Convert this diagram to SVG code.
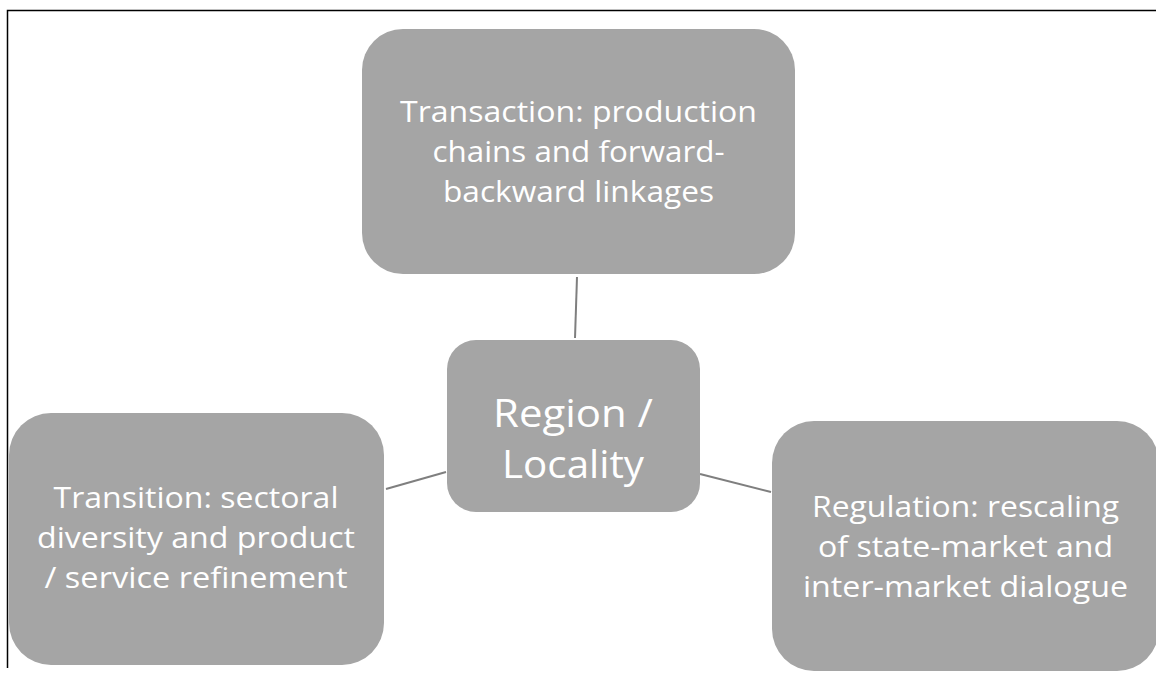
<svg xmlns="http://www.w3.org/2000/svg" width="1156" height="675" viewBox="0 0 1156 675">
  <style>
    .box { fill: #A5A5A5; }
    .lbl { fill: #FFFFFF; font-family: "Open Sans", "Noto Sans", sans-serif; font-size: 29px; text-anchor: middle; }
    .big { font-size: 38px; }
    .link { stroke: #7F7F7F; stroke-width: 2; fill: none; }
    .frame { stroke: #000000; stroke-width: 1.5; fill: none; }
  </style>
  <rect width="1156" height="675" fill="#FFFFFF"/>
  <!-- page frame: top and left rules -->
  <path class="frame" d="M7.5 668 V10.5 H1156"/>

  <g id="connectors">
    <line class="link" x1="577" y1="277" x2="575" y2="338"/>
    <line class="link" x1="386" y1="489" x2="446" y2="472"/>
    <line class="link" x1="700" y1="474" x2="771" y2="492"/>
  </g>

  <g id="transaction">
    <rect class="box" x="362" y="29" width="433" height="245" rx="41"/>
    <text class="lbl" x="578.5" y="122" textLength="357" lengthAdjust="spacingAndGlyphs">Transaction: production</text>
    <text class="lbl" x="578.5" y="162" textLength="292" lengthAdjust="spacingAndGlyphs">chains and forward-</text>
    <text class="lbl" x="578.5" y="202" textLength="271" lengthAdjust="spacingAndGlyphs">backward linkages</text>
  </g>

  <g id="region">
    <rect class="box" x="447" y="340" width="253" height="172" rx="29"/>
    <text class="lbl big" x="573" y="427" textLength="160" lengthAdjust="spacingAndGlyphs">Region /</text>
    <text class="lbl big" x="573" y="478" textLength="142" lengthAdjust="spacingAndGlyphs">Locality</text>
  </g>

  <g id="transition">
    <rect class="box" x="9" y="413" width="375" height="252" rx="42"/>
    <text class="lbl" x="196" y="508" textLength="285" lengthAdjust="spacingAndGlyphs">Transition: sectoral</text>
    <text class="lbl" x="196" y="548" textLength="318" lengthAdjust="spacingAndGlyphs">diversity and product</text>
    <text class="lbl" x="196" y="588" textLength="303" lengthAdjust="spacingAndGlyphs">/ service refinement</text>
  </g>

  <g id="regulation">
    <rect class="box" x="772" y="421" width="387" height="250" rx="42"/>
    <text class="lbl" x="965.5" y="517" textLength="307" lengthAdjust="spacingAndGlyphs">Regulation: rescaling</text>
    <text class="lbl" x="965.5" y="557" textLength="295" lengthAdjust="spacingAndGlyphs">of state-market and</text>
    <text class="lbl" x="965.5" y="597" textLength="325" lengthAdjust="spacingAndGlyphs">inter-market dialogue</text>
  </g>
</svg>
